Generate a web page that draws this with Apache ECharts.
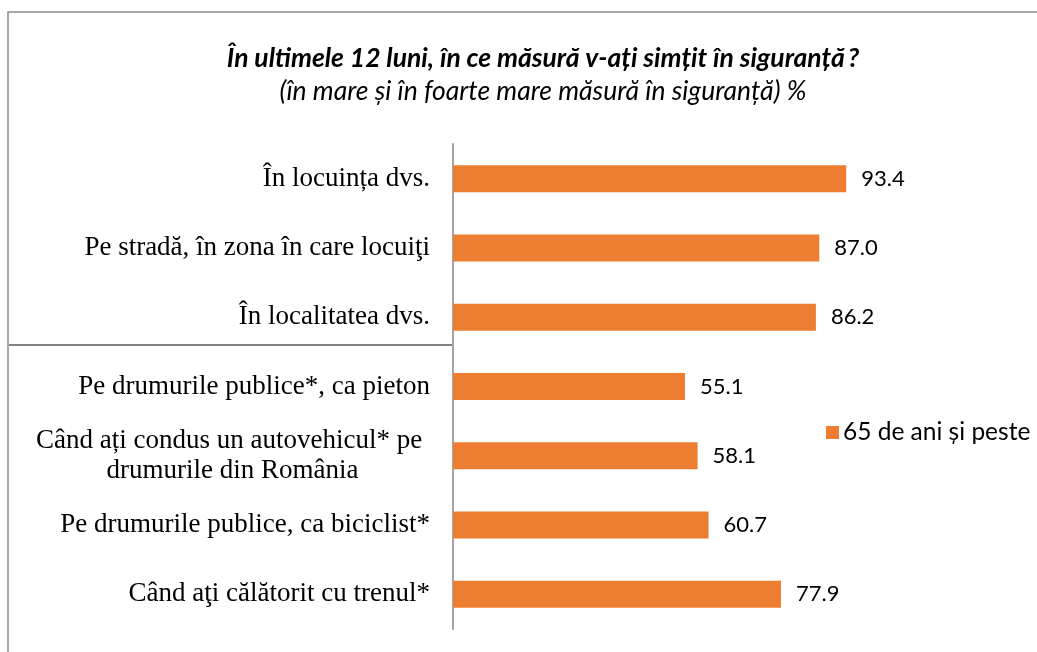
<!DOCTYPE html>
<html>
<head>
<meta charset="utf-8">
<script src="https://cdn.jsdelivr.net/npm/echarts@6/dist/echarts.min.js"></script>
<style>
  html, body { margin: 0; padding: 0; background: #fff; }
  #chart { width: 1037px; height: 652px; }
</style>
</head>
<body>
<div id="chart"></div>
<script>
  // date
  var categories = [
    'În locuința dvs.',
    'Pe stradă, în zona în care locuiţi',
    'În localitatea dvs.',
    'Pe drumurile publice*, ca pieton',
    'Când ați condus un autovehicul* pe \ndrumurile din România',
    'Pe drumurile publice, ca biciclist*',
    'Când aţi călătorit cu trenul*'
  ]
  var values = [93.4, 87.0, 86.2, 55.1, 58.1, 60.7, 77.9]
  var seriesName = '65 de ani și peste'
  var titleText = 'În ultimele 12 luni, în ce măsură v-ați simțit în siguranță\u2009?'
  var subText = '(în mare și în foarte mare măsură în siguranță) %'

  var myChart = echarts.init(document.getElementById('chart'))
  var sans = 'Lato'

  var option = {
    animation: false,
    title: {
      text: titleText,
      subtext: subText,
      left: 538,
      top: 40,
      textAlign: 'center',
      itemGap: 6,
      textStyle: {
        fontFamily: sans,
        fontStyle: 'italic',
        fontWeight: 'bold',
        fontSize: 26.5,
        color: '#000'
      },
      subtextStyle: {
        fontFamily: sans,
        fontStyle: 'italic',
        fontSize: 26.5,
        color: '#000'
      }
    },
    legend: {
      left: 821,
      top: 415,
      itemWidth: 13,
      itemHeight: 13,
      icon: 'rect',
      itemGap: 6,
      textStyle: {
        fontFamily: sans,
        fontSize: 24.5,
        color: '#000',
        padding: [0, 0, 0, -1]
      },
      data: [seriesName]
    },
    grid: {
      left: 453,
      top: 144,
      width: 421,
      height: 485,
      containLabel: false
    },
    xAxis: {
      type: 'value',
      min: 0,
      max: 100,
      show: false
    },
    yAxis: {
      type: 'category',
      inverse: true,
      data: categories,
      axisTick: { show: false },
      axisLine: {
        show: true,
        lineStyle: { color: '#a6a6a6', width: 2 }
      },
      axisLabel: {
        margin: 23,
        fontFamily: 'Liberation Serif',
        fontSize: 27,
        color: '#000',
        lineHeight: 30,
        formatter: function (val) {
          if (val.indexOf('\n') < 0) return val
          return val.split('\n').map(function (s) { return '{c|' + s + '}' }).join('\n')
        },
        rich: {
          c: {
            width: 395,
            align: 'center',
            fontFamily: 'Liberation Serif',
            fontSize: 27,
            lineHeight: 30,
            color: '#000'
          }
        }
      }
    },
    series: [{
      name: seriesName,
      type: 'bar',
      data: values,
      barWidth: 27,
      itemStyle: { color: '#ED7D31' },
      label: {
        show: true,
        position: 'right',
        distance: 15,
        fontFamily: sans,
        fontSize: 22,
        color: '#000',
        formatter: function (p) { return p.value.toFixed(1) }
      }
    }]
  }

  myChart.setOption(option)

  // linia de separare si chenarul
  var axisX = myChart.convertToPixel({ gridIndex: 0 }, [0, 0])[0]
  var y2 = myChart.convertToPixel({ yAxisIndex: 0 }, 2)
  var y3 = myChart.convertToPixel({ yAxisIndex: 0 }, 3)
  var sepY = Math.round(y2 + (y3 - y2) * 0.4)

  myChart.setOption({
    graphic: [{
      type: 'rect',
      shape: { x: 8, y: 12, width: 1100, height: 700 },
      style: { fill: null, stroke: '#8c8c8c', lineWidth: 1.5 },
      silent: true
    }, {
      type: 'line',
      shape: { x1: 9, y1: sepY, x2: axisX, y2: sepY },
      style: { stroke: '#595959', lineWidth: 1.5 },
      silent: true
    }]
  })
</script>
</body>
</html>
